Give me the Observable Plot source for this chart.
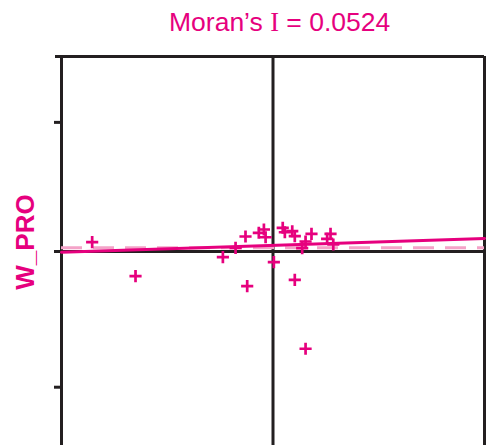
<!DOCTYPE html>
<html>
<head>
<meta charset="utf-8">
<script src="https://cdn.jsdelivr.net/npm/d3@7"></script>
<script src="https://cdn.jsdelivr.net/npm/@observablehq/plot@0.6"></script>
<style>
  html, body { margin: 0; padding: 0; background: #fff; overflow: hidden; }
  #title {
    height: 30px; padding-top: 10px; line-height: 26px;
    font-family: Arial, "Liberation Sans", sans-serif; font-size: 26.5px;
    color: #e6007e; white-space: nowrap; position: relative;
  }
  #title span.t { position: absolute; left: 169px; top: 9px; }
  #title span.serif { font-family: "Liberation Serif", "Times New Roman", serif; }
</style>
</head>
<body>
<div id="title"><span class="t">Moran’s <span class="serif">I</span> = 0.0524</span></div>
<div id="chart"></div>
<script>
// Standardised variable (x) and its spatial lag W_PRO (y)
const zValues = [-0.855, -0.650, -0.237, -0.177, -0.130, -0.122, -0.067, -0.043, -0.035, 0.004, 0.046,
                 0.056, 0.091, 0.103, 0.103, 0.138, 0.154, 0.154, 0.182, 0.256, 0.272, 0.285];
const wValues = [0.071, -0.187, -0.043, 0.028, 0.114, -0.263, 0.142, 0.167, 0.108, -0.081, 0.180,
                 0.146, 0.154, 0.116, -0.215, 0.025, 0.076, -0.738, 0.134, 0.096, 0.134, 0.053];
const moransI = 0.0524;      // slope of the regression line
const intercept = 0.047;
const meanW = 0.028;         // dashed reference line
const xDomain = [-1, 1];
const yDomain = [-1.48, 1.48];
const yTicks = [-1.03, 0, 0.98];
const yLabel = "W_PRO";

const points = zValues.map((z, i) => ({x: z, y: wValues[i]}));
const regLine = xDomain.map(x => ({x, y: intercept + moransI * x}));

const MAGENTA = "#e6007e";
const PINK = "#f4a3c8";
const INK = "#231f20";

const plot = Plot.plot({
  width: 486,
  height: 405,
  marginTop: 16,
  marginBottom: -1,
  marginLeft: 61,
  marginRight: 2,
  x: {domain: xDomain, axis: null},
  y: {domain: yDomain, axis: null},
  marks: [
    Plot.ruleX(xDomain, {x: d => d, stroke: INK, strokeWidth: 3}),
    Plot.ruleY([yDomain[1]], {y: d => d, stroke: INK, strokeWidth: 3, insetLeft: -6}),
    Plot.ruleY(yTicks, {y: d => d, x1: xDomain[0], x2: xDomain[0], insetLeft: -7, stroke: INK, strokeWidth: 3}),
    Plot.ruleX([0], {stroke: INK, strokeWidth: 3}),
    Plot.ruleY([0], {stroke: INK, strokeWidth: 3}),
    Plot.ruleY([meanW], {y: d => d, stroke: PINK, strokeWidth: 3, strokeDasharray: "21,11"}),
    Plot.line(regLine, {x: "x", y: "y", stroke: MAGENTA, strokeWidth: 3}),
    Plot.dot(points, {x: "x", y: "y", symbol: "plus", r: 4, stroke: MAGENTA, strokeWidth: 2.7}),
    Plot.text([yLabel], {x: xDomain[0], y: 0.072, text: d => d, rotate: -90, dx: -36,
      fontSize: 26, fontWeight: "bold", fill: MAGENTA,
      fontFamily: "Arial, 'Liberation Sans', sans-serif"})
  ]
});
plot.style.overflow = "visible";
document.getElementById("chart").appendChild(plot);
</script>
</body>
</html>
